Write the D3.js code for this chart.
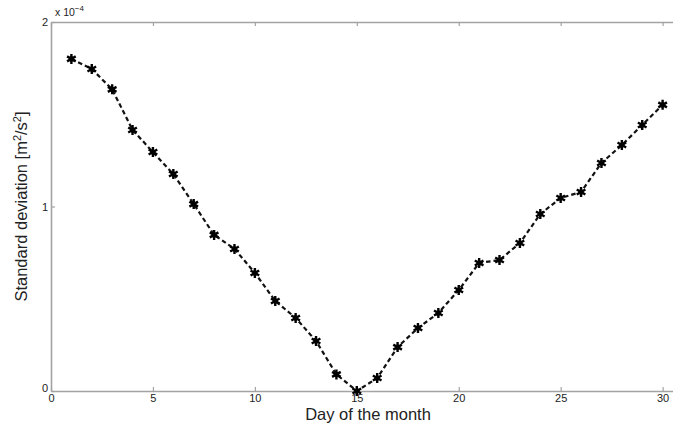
<!DOCTYPE html>
<html>
<head>
<meta charset="utf-8">
<script src="https://cdn.jsdelivr.net/npm/d3@7"></script>
<style>
  html, body { margin: 0; padding: 0; background: #fff; }
  svg { display: block; font-family: "Liberation Sans", Arial, Helvetica, sans-serif; }
</style>
</head>
<body>
<svg id="chart" width="673" height="428"></svg>
<script>
// Day of the month and the standard deviation of each day (units of 1e-4 m^2/s^2)
const days = d3.range(1, 31);
const stdDev = [
  1.80, 1.745, 1.635, 1.415, 1.295, 1.176, 1.013, 0.846, 0.770, 0.640,
  0.488, 0.396, 0.271, 0.090, 0.000, 0.070, 0.238, 0.341, 0.423, 0.547,
  0.694, 0.710, 0.802, 0.959, 1.046, 1.079, 1.236, 1.333, 1.442, 1.551
];
const xTicks = [0, 5, 10, 15, 20, 25, 30];
const yTicks = [0, 1, 2];
const xDomain = [0, 31];
const yDomain = [0, 2];

const svg = d3.select("#chart");
const plotLeft = 51, plotRight = 683, plotTop = 22, plotBottom = 391;

const x = d3.scaleLinear().domain(xDomain).range([plotLeft, plotRight]);
const y = d3.scaleLinear().domain(yDomain).range([plotBottom, plotTop]);

const axisColor = "#a3a3a3";
const textColor = "#222";

// Bottom axis
const xAxisB = svg.append("g")
  .attr("transform", `translate(0,${plotBottom})`)
  .call(d3.axisBottom(x).tickValues(xTicks).tickSizeInner(-4).tickSizeOuter(0).tickPadding(3));
// Top axis (ticks only)
const xAxisT = svg.append("g")
  .attr("transform", `translate(0,${plotTop})`)
  .call(d3.axisTop(x).tickValues(xTicks).tickSizeInner(-4).tickSizeOuter(0).tickFormat(""));
// Left axis
const yAxisL = svg.append("g")
  .attr("transform", `translate(${plotLeft},0)`)
  .call(d3.axisLeft(y).tickValues(yTicks).tickSizeInner(-4).tickSizeOuter(0).tickPadding(3).tickFormat(d3.format("d")));

[xAxisB, xAxisT, yAxisL].forEach(g => {
  g.select(".domain").attr("stroke", axisColor).attr("stroke-width", 1.6);
  g.selectAll(".tick line").attr("stroke", axisColor).attr("stroke-width", 1.2);
  g.selectAll(".tick text").attr("fill", textColor).attr("font-size", 11)
    .attr("font-family", "\"Liberation Sans\", Arial, sans-serif");
});
xAxisB.selectAll(".tick text").attr("dy", "0.71em");
yAxisL.selectAll(".tick text").attr("dy", "0.32em");
yAxisL.selectAll(".tick").filter(d => d === 0).select("text").attr("dy", "0em");

// Exponent label above the y axis
const expo = svg.append("text")
  .attr("x", plotLeft + 4).attr("y", plotTop - 6)
  .attr("font-size", 10.5).attr("fill", textColor);
expo.append("tspan").text("x 10");
expo.append("tspan").attr("dy", -5).attr("font-size", 8).text("\u22124");

// Dashed line through the daily values
const line = d3.line().x((d, i) => x(days[i])).y(d => y(d));
svg.append("path")
  .datum(stdDev)
  .attr("d", line)
  .attr("fill", "none")
  .attr("stroke", "#111")
  .attr("stroke-width", 2.2)
  .attr("stroke-dasharray", "4.5,3");

// Asterisk markers
const star = d3.symbol().type(d3.symbolAsterisk).size(70);
svg.append("g").selectAll("path")
  .data(stdDev)
  .join("path")
  .attr("transform", (d, i) => `translate(${x(days[i])},${y(d)})`)
  .attr("d", star)
  .attr("fill", "none")
  .attr("stroke", "#000")
  .attr("stroke-width", 2.4);
svg.append("g").selectAll("circle")
  .data(stdDev)
  .join("circle")
  .attr("cx", (d, i) => x(days[i]))
  .attr("cy", d => y(d))
  .attr("r", 2.6)
  .attr("fill", "#000");

// Axis titles
svg.append("text")
  .attr("x", 368).attr("y", 420)
  .attr("text-anchor", "middle")
  .attr("font-size", 16.5).attr("fill", textColor)
  .text("Day of the month");

const ylab = svg.append("text")
  .attr("transform", `translate(27,${(plotTop + plotBottom) / 2}) rotate(-90)`)
  .attr("text-anchor", "middle")
  .attr("font-size", 16.5).attr("fill", textColor);
ylab.append("tspan").text("Standard deviation [m");
ylab.append("tspan").attr("dy", -6).attr("font-size", 11).text("2");
ylab.append("tspan").attr("dy", 6).text("/s");
ylab.append("tspan").attr("dy", -6).attr("font-size", 11).text("2");
ylab.append("tspan").attr("dy", 6).text("]");
</script>
</body>
</html>
